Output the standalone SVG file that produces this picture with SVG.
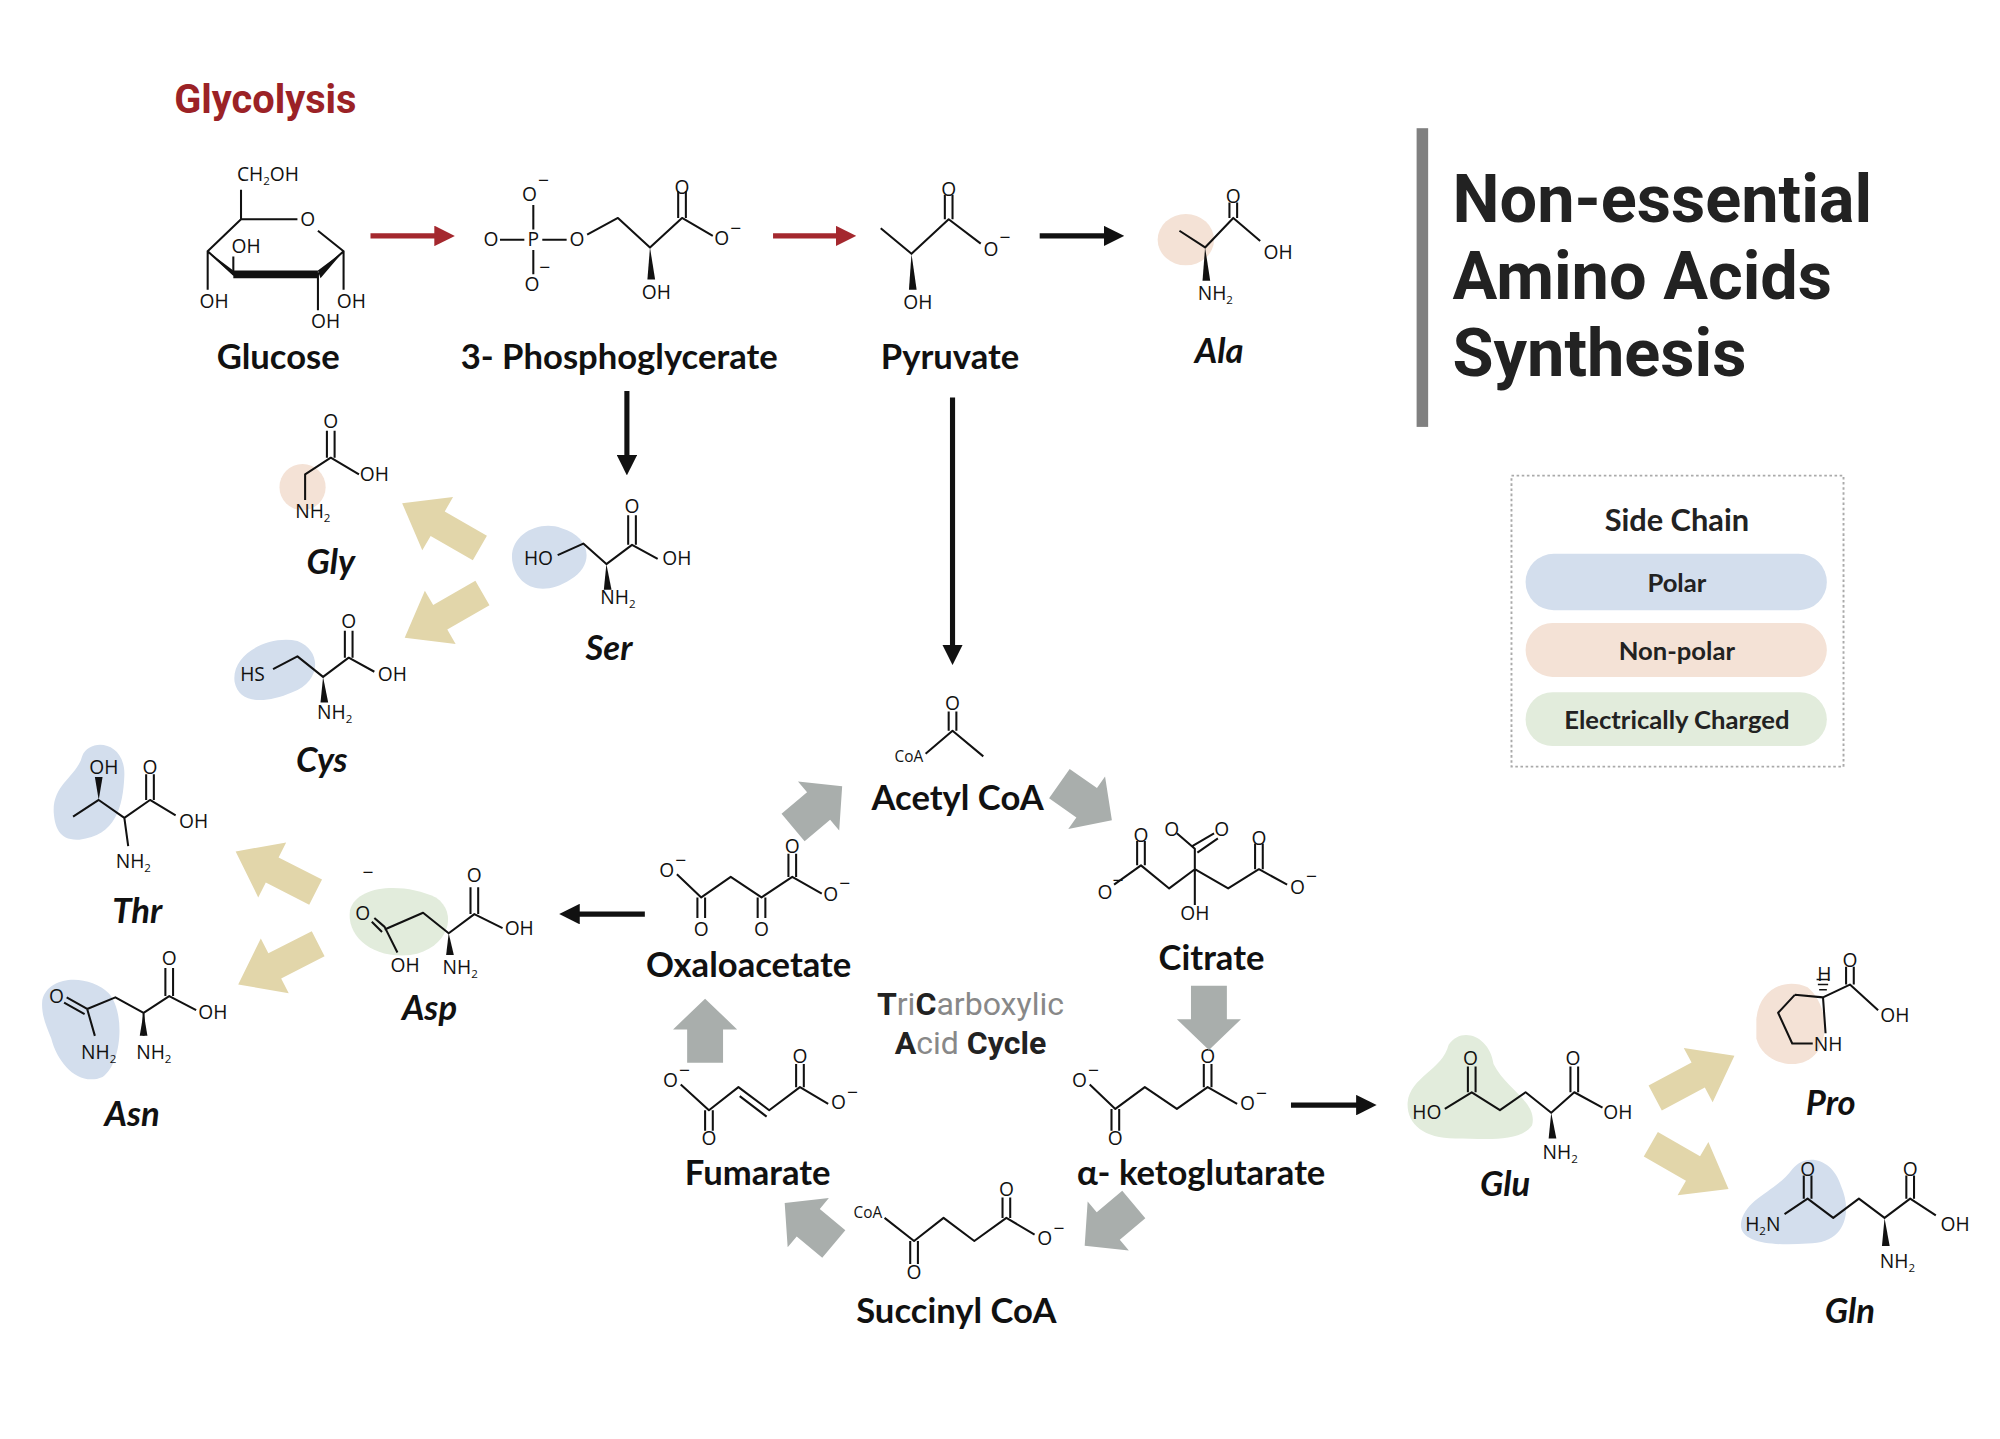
<svg xmlns="http://www.w3.org/2000/svg" width="2000" height="1439" viewBox="0 0 2000 1439">
<style>
.b{fill:none;stroke:#111;stroke-width:1.6;stroke-linejoin:round}
.t{font-family:"Open Sans","Liberation Sans",sans-serif;font-size:15px;fill:#111;text-anchor:middle}
.s{font-size:9px}
.lab{font-family:Lato,"Liberation Sans",sans-serif;font-weight:700;font-size:27px;fill:#111;text-anchor:middle}
.aa{font-style:italic}
.bl{fill:#d3deed}.be{fill:#f4e2d6}.gr{fill:#e2ecdc}
.ya{fill:#e2d6aa}.ga{fill:#a9aeac}
.k{stroke:#111;stroke-width:4;fill:none}
.r{stroke:#a4282e;stroke-width:4;fill:none}
.w{fill:#111}
</style>
<defs>
<marker id="mk" viewBox="0 0 10 10" refX="2" refY="5" markerWidth="4" markerHeight="4" orient="auto"><path d="M0,0L10,5L0,10z" fill="#111"/></marker>
<marker id="mr" viewBox="0 0 10 10" refX="2" refY="5" markerWidth="4" markerHeight="4" orient="auto"><path d="M0,0L10,5L0,10z" fill="#a4282e"/></marker>
<path id="ya" d="M-35,-11L3,-11L3,-24L35,0L3,24L3,11L-35,11z"/>
<path id="gaa" d="M-24,-14L2,-14L2,-25L26,0L2,25L2,14L-24,14z"/>
</defs>
<rect width="2000" height="1439" fill="#fff"/>
<g transform="scale(1.282)">
<text x="207" y="88" style="font-family:Roboto,'Liberation Sans',sans-serif;font-weight:700;font-size:31px;fill:#9b2226" text-anchor="middle">Glycolysis</text>
<g id="title"><rect x="1105" y="100" width="9" height="233" fill="#808080"/>
<text style="font-family:Roboto,'Liberation Sans',sans-serif;font-weight:700;font-size:52px;fill:#222"><tspan x="1133" y="173">Non-essential</tspan><tspan x="1133" y="233">Amino Acids</tspan><tspan x="1133" y="293">Synthesis</tspan></text></g>
<g id="legend"><rect x="1179" y="371" width="259" height="227" fill="none" stroke="#aaa" stroke-dasharray="2,2" stroke-width="1.5"/>
<text x="1308" y="414" style="font-family:Lato,'Liberation Sans',sans-serif;font-weight:700;font-size:24px;fill:#222" text-anchor="middle">Side Chain</text>
<rect x="1190" y="432" width="235" height="44" rx="22" class="bl"/><rect x="1190" y="486" width="235" height="42" rx="21" class="be"/><rect x="1190" y="540" width="235" height="42" rx="21" class="gr"/>
<g style="font-family:Lato,'Liberation Sans',sans-serif;font-weight:700;font-size:20px;fill:#222" text-anchor="middle"><text x="1308" y="462">Polar</text><text x="1308" y="515">Non-polar</text><text x="1308" y="569">Electrically Charged</text></g></g>
<g id="blobs">
<ellipse cx="925" cy="187" rx="22" ry="20" class="be"/>
<circle cx="236" cy="380" r="18" class="be"/>
<path d="M400,440C395,418,420,405,438,412C460,418,465,440,445,452C425,465,405,460,400,440z" class="bl"/>
<path d="M183,532C180,510,210,495,232,500C252,508,250,532,228,540C205,550,186,548,183,532z" class="bl"/>
<path d="M42,635C40,612,60,606,64,590C70,575,98,578,97,605C96,630,90,652,62,655C46,656,43,645,42,635z" class="bl"/>
<path d="M273,710C278,690,315,688,340,700C358,712,350,740,320,745C290,748,270,730,273,710z" class="gr"/>
<path d="M33,780C38,760,70,760,85,775C98,790,95,830,80,840C62,848,45,830,40,810C35,798,32,790,33,780z" class="bl"/>
<path d="M1098,860C1100,840,1125,835,1130,815C1140,800,1162,808,1165,830C1175,850,1200,860,1195,878C1185,892,1155,888,1135,888C1110,888,1097,876,1098,860z" class="gr"/>
<path d="M1370,795C1372,772,1392,762,1410,770C1420,778,1430,800,1418,820C1405,838,1375,830,1370,810z" class="be"/>
<path d="M1358,955C1360,935,1385,930,1398,912C1410,898,1430,905,1436,925C1445,945,1440,970,1410,970C1385,972,1357,970,1358,955z" class="bl"/>
</g>
<g id="glucose">
<path class="b" d="M188,171L232,171M248,180L268,196L248,214L182,214L162,196L188,171M188,171L188,148M162,196L162,226M182,214L182,200M248,214L248,242M268,196L268,226"/>
<path class="w" d="M162,196L182,211L184,217z M182,211L248,211L248,217L182,217z M248,211L268,196L250,217z"/>
<text class="t" x="209" y="141">CH<tspan class="s" dy="3">2</tspan><tspan dy="-3">OH</tspan></text>
<text class="t" x="240" y="176">O</text><text class="t" x="192" y="197">OH</text><text class="t" x="167" y="240">OH</text><text class="t" x="254" y="256">OH</text><text class="t" x="274" y="240">OH</text>
<text class="lab" x="217" y="288">Glucose</text></g>
<g id="pg">
<path class="b" d="M390,187L409,187M423,187L442,187M416,160L416,179M416,195L416,214M458,183L482,170L507,193L532,170L556,184M529,170L529,149M535,170L535,149"/>
<path class="w" d="M507,193L505,218L511,218z"/>
<text class="t" x="383" y="192">O</text><text class="t" x="416" y="192">P</text><text class="t" x="450" y="192">O</text><text class="t" x="413" y="157">O</text><text class="t" x="424" y="146">−</text><text class="t" x="415" y="227">O</text><text class="t" x="425" y="214">−</text>
<text class="t" x="532" y="151">O</text><text class="t" x="563" y="191">O</text><text class="t" x="574" y="183">−</text><text class="t" x="512" y="233">OH</text>
<text class="lab" x="483" y="288">3- Phosphoglycerate</text></g>
<g id="pyruvate">
<path class="b" d="M687,178L711,198L740,171L765,190M737,171L737,152M743,171L743,152"/>
<path class="w" d="M711,198L709,226L715,226z"/>
<text class="t" x="740" y="153">O</text><text class="t" x="773" y="200">O</text><text class="t" x="784" y="190">−</text><text class="t" x="716" y="241">OH</text>
<text class="lab" x="741" y="288">Pyruvate</text></g>
<g id="ala">
<path class="b" d="M920,180L940,193L962,170L983,188M959,170L959,158M965,170L965,158"/>
<path class="w" d="M940,193L938,219L944,219z"/>
<text class="t" x="962" y="158">O</text><text class="t" x="997" y="202">OH</text><text class="t" x="948" y="234">NH<tspan class="s" dy="3">2</tspan></text>
<text class="lab aa" x="951" y="283">Ala</text></g>
<g id="gly">
<path class="b" d="M238,390L238,370L258,357L280,370M255,357L255,336M261,357L261,336"/>
<text class="t" x="258" y="334">O</text><text class="t" x="292" y="375">OH</text><text class="t" x="244" y="404">NH<tspan class="s" dy="3">2</tspan></text>
<text class="lab aa" x="258" y="448">Gly</text></g>
<g id="ser">
<path class="b" d="M435,433L455,424L473,440L493,425L513,436M490,425L490,402M496,425L496,402"/>
<path class="w" d="M473,440L471,460L477,460z"/>
<text class="t" x="420" y="441">HO</text><text class="t" x="493" y="400">O</text><text class="t" x="528" y="441">OH</text><text class="t" x="482" y="471">NH<tspan class="s" dy="3">2</tspan></text>
<text class="lab aa" x="475" y="515">Ser</text></g>
<g id="cys">
<path class="b" d="M213,522L232,512L252,528L272,513L292,524M269,513L269,492M275,513L275,492"/>
<path class="w" d="M252,528L250,548L256,548z"/>
<text class="t" x="197" y="531">HS</text><text class="t" x="272" y="490">O</text><text class="t" x="306" y="531">OH</text><text class="t" x="261" y="561">NH<tspan class="s" dy="3">2</tspan></text>
<text class="lab aa" x="251" y="602">Cys</text></g>
<g id="thr">
<path class="b" d="M57,637L77,624L97,638L117,624L137,636M114,624L114,604M120,624L120,604M97,638L100,660"/>
<path class="w" d="M77,624L74,606L80,606z"/>
<text class="t" x="81" y="604">OH</text><text class="t" x="117" y="604">O</text><text class="t" x="151" y="646">OH</text><text class="t" x="104" y="677">NH<tspan class="s" dy="3">2</tspan></text>
<text class="lab aa" x="107" y="720">Thr</text></g>
<g id="asp">
<path class="b" d="M292,716L300,723L310,743M290,719L298,727M300,725L330,712L350,728L370,713L392,724M367,713L367,692M373,713L373,692"/>
<path class="w" d="M350,728L348,745L354,745z"/>
<text class="t" x="287" y="686">−</text><text class="t" x="283" y="718">O</text><text class="t" x="316" y="758">OH</text><text class="t" x="370" y="688">O</text><text class="t" x="405" y="729">OH</text><text class="t" x="359" y="760">NH<tspan class="s" dy="3">2</tspan></text>
<text class="lab aa" x="335" y="796">Asp</text></g>
<g id="asn">
<path class="b" d="M52,778L68,787M50,782L66,791M68,787L74,808M68,787L90,778L112,790L132,777L153,788M129,777L129,755M135,777L135,755M112,790L112,808"/>
<path class="w" d="M112,790L109,808L115,808z"/>
<text class="t" x="44" y="782">O</text><text class="t" x="132" y="753">O</text><text class="t" x="166" y="795">OH</text><text class="t" x="77" y="826">NH<tspan class="s" dy="3">2</tspan></text><text class="t" x="120" y="826">NH<tspan class="s" dy="3">2</tspan></text>
<text class="lab aa" x="103" y="878">Asn</text></g>
<g id="acetylcoa">
<path class="b" d="M722,588L743,570L767,590M740,570L740,555M746,570L746,555"/>
<text class="t" x="743" y="554">O</text><text class="t" x="709" y="594" style="font-size:12px">CoA</text>
<text class="lab" x="747" y="632">Acetyl CoA</text></g>
<g id="oxalo">
<path class="b" d="M528,682L547,700L570,684L594,700L618,684L641,697M544,700L544,716M550,700L550,716M591,700L591,716M597,700L597,716M615,684L615,666M621,684L621,666"/>
<text class="t" x="520" y="684">O</text><text class="t" x="531" y="676">−</text><text class="t" x="547" y="730">O</text><text class="t" x="594" y="730">O</text><text class="t" x="618" y="665">O</text><text class="t" x="648" y="703">O</text><text class="t" x="659" y="694">−</text>
<text class="lab" x="584" y="762">Oxaloacetate</text></g>
<g id="citrate">
<path class="b" d="M869,690L890,675L912,693L932,678L958,693L982,678L1004,690M887,675L887,656M893,675L893,656M979,678L979,658M985,678L985,658M932,678L932,706M932,678L932,662L918,650M930,660L947,650M934,665L950,654"/>
<text class="t" x="862" y="701">O</text><text class="t" x="872" y="692">−</text><text class="t" x="890" y="657">O</text><text class="t" x="914" y="652">O</text><text class="t" x="953" y="652">O</text><text class="t" x="982" y="659">O</text><text class="t" x="1012" y="697">O</text><text class="t" x="1023" y="689">−</text><text class="t" x="932" y="718">OH</text>
<text class="lab" x="945" y="757">Citrate</text></g>
<g id="tca"><text x="757" y="792" style="font-family:Roboto,'Liberation Sans',sans-serif;font-size:25px;fill:#888" text-anchor="middle"><tspan fill="#222" font-weight="700">T</tspan>ri<tspan fill="#222" font-weight="700">C</tspan>arboxylic</text>
<text x="757" y="822" style="font-family:Roboto,'Liberation Sans',sans-serif;font-size:25px;fill:#888" text-anchor="middle"><tspan fill="#222" font-weight="700">A</tspan>cid <tspan fill="#222" font-weight="700">Cycle</tspan></text></g>
<g id="akg">
<path class="b" d="M850,846L870,865L893,848L918,865L942,848L965,861M867,865L867,882M873,865L873,882M939,848L939,830M945,848L945,830"/>
<text class="t" x="842" y="848">O</text><text class="t" x="853" y="840">−</text><text class="t" x="870" y="893">O</text><text class="t" x="942" y="829">O</text><text class="t" x="973" y="866">O</text><text class="t" x="984" y="858">−</text>
<text class="lab" x="937" y="924">α- ketoglutarate</text></g>
<g id="succ">
<path class="b" d="M690,950L713,968L736,950L760,968L785,950L807,963M710,968L710,986M716,968L716,986M782,950L782,934M788,950L788,934"/>
<text class="t" x="677" y="950" style="font-size:12px">CoA</text><text class="t" x="713" y="998">O</text><text class="t" x="785" y="933">O</text><text class="t" x="815" y="971">O</text><text class="t" x="826" y="963">−</text>
<text class="lab" x="746" y="1032">Succinyl CoA</text></g>
<g id="fum">
<path class="b" d="M531,846L553,866L576,848L600,866L624,848L646,861M550,866L550,882M556,866L556,882M621,848L621,830M627,848L627,830M577,855L598,871"/>
<text class="t" x="523" y="848">O</text><text class="t" x="534" y="840">−</text><text class="t" x="553" y="893">O</text><text class="t" x="624" y="829">O</text><text class="t" x="654" y="865">O</text><text class="t" x="665" y="857">−</text>
<text class="lab" x="591" y="924">Fumarate</text></g>
<g id="glu">
<path class="b" d="M1127,865L1148,852L1170,866L1190,852L1210,868L1228,852L1250,864M1145,852L1145,832M1151,852L1151,832M1225,852L1225,832M1231,852L1231,832"/>
<path class="w" d="M1210,868L1208,888L1214,888z"/>
<text class="t" x="1113" y="873">HO</text><text class="t" x="1147" y="831">O</text><text class="t" x="1227" y="831">O</text><text class="t" x="1262" y="873">OH</text><text class="t" x="1217" y="904">NH<tspan class="s" dy="3">2</tspan></text>
<text class="lab aa" x="1174" y="933">Glu</text></g>
<g id="pro">
<path class="b" d="M1400,776L1387,790L1398,814L1414,814M1422,778L1400,776M1422,778L1424,806M1422,778L1443,768L1465,788M1440,768L1440,754M1446,768L1446,754"/>
<path class="b" d="M1418,768L1426,768M1419,772L1425,772M1417,764L1427,764" style="stroke-width:1.2"/>
<text class="t" x="1423" y="765">H</text><text class="t" x="1443" y="754">O</text><text class="t" x="1478" y="797">OH</text><text class="t" x="1426" y="820">NH</text>
<text class="lab aa" x="1428" y="870">Pro</text></g>
<g id="gln">
<path class="b" d="M1392,947L1410,935L1430,950L1450,935L1470,950L1490,935L1510,948M1407,935L1407,917M1413,935L1413,917M1487,935L1487,917M1493,935L1493,917"/>
<path class="w" d="M1470,950L1468,972L1474,972z"/>
<text class="t" x="1375" y="960">H<tspan class="s" dy="3">2</tspan><tspan dy="-3">N</tspan></text><text class="t" x="1410" y="917">O</text><text class="t" x="1490" y="917">O</text><text class="t" x="1525" y="960">OH</text><text class="t" x="1480" y="989">NH<tspan class="s" dy="3">2</tspan></text>
<text class="lab aa" x="1443" y="1032">Gln</text></g>
<g id="connectors">
<path class="r" d="M289,184L342,184" marker-end="url(#mr)"/>
<path class="r" d="M603,184L655,184" marker-end="url(#mr)"/>
<path class="k" d="M811,184L864,184" marker-end="url(#mk)"/>
<path class="k" d="M489,305L489,358" marker-end="url(#mk)"/>
<path class="k" d="M743,310L743,506" marker-end="url(#mk)"/>
<path class="k" d="M503,713L449,713" marker-end="url(#mk)"/>
<path class="k" d="M1007,862L1061,862" marker-end="url(#mk)"/>
<use href="#ya" class="ya" transform="translate(344,410) rotate(-150)"/>
<use href="#ya" class="ya" transform="translate(346,480) rotate(150)"/>
<use href="#ya" class="ya" transform="translate(215,680) rotate(-153)"/>
<use href="#ya" class="ya" transform="translate(217,752) rotate(153)"/>
<use href="#ya" class="ya" transform="translate(1322,840) rotate(-28)"/>
<use href="#ya" class="ya" transform="translate(1318,910) rotate(30)"/>
<use href="#gaa" class="ga" transform="translate(637,630) rotate(-40)"/>
<use href="#gaa" class="ga" transform="translate(846,625) rotate(35)"/>
<use href="#gaa" class="ga" transform="translate(943,793) rotate(90)"/>
<use href="#gaa" class="ga" transform="translate(866,955) rotate(140)"/>
<use href="#gaa" class="ga" transform="translate(632,955) rotate(-140)"/>
<use href="#gaa" class="ga" transform="translate(550,805) rotate(-90)"/>
</g>
</g>
</svg>
